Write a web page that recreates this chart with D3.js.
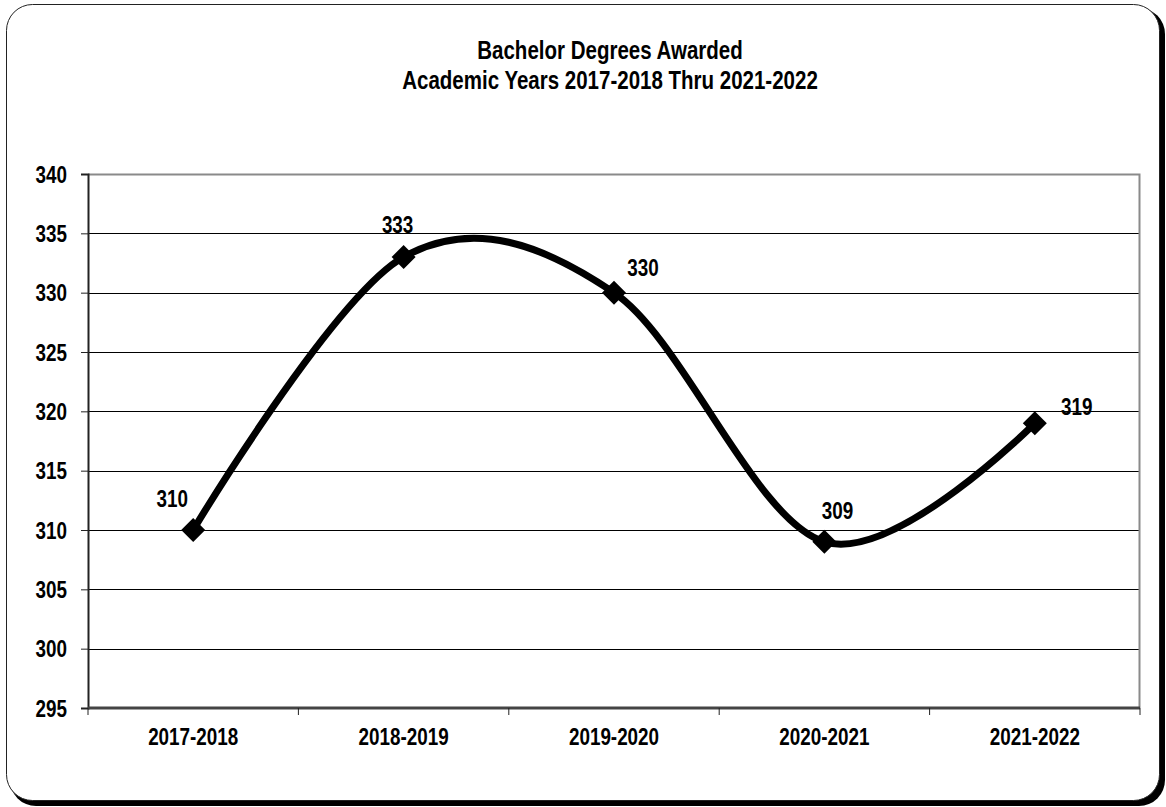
<!DOCTYPE html>
<html>
<head>
<meta charset="utf-8">
<script src="https://cdn.jsdelivr.net/npm/d3@7"></script>
<style>
  body { margin: 0; background: #fff; }
  text { font-family: "Liberation Sans Narrow", "Arial Narrow", "Liberation Sans", sans-serif; font-weight: bold; fill: #000; }
</style>
</head>
<body>
<div id="chart"></div>
<script>
// chart data
var years = ["2017-2018", "2018-2019", "2019-2020", "2020-2021", "2021-2022"];
var degrees = [310, 333, 330, 309, 319];
var yTicks = [295, 300, 305, 310, 315, 320, 325, 330, 335, 340];
var titleLines = ["Bachelor Degrees Awarded", "Academic Years 2017-2018 Thru 2021-2022"];

// where the data labels sit relative to their point (like excel's manual placement)
var labelShift = [[-21, -23], [-6, -24], [29, -17], [13, -23], [42, -8]];

var W = 1166, H = 807;
var margin = { top: 174, right: 26, bottom: 99, left: 88 },
  width = W - margin.left - margin.right,
  height = H - margin.top - margin.bottom;

// no narrow font here, so squeeze the regular one
var squeeze = 0.82;
function narrow(sel, fx, fy) {
  sel.attr("transform", function (d, i) {
    return "translate(" + fx(d, i) + "," + fy(d, i) + ") scale(" + squeeze + ",1)";
  });
}

var svg = d3.select("#chart").append("svg")
  .attr("width", W)
  .attr("height", H);

// frame with shadow
svg.append("rect")
  .attr("x", 10).attr("y", 8)
  .attr("width", 1155).attr("height", 798)
  .attr("rx", 26).attr("ry", 26)
  .style("fill", "#000");
svg.append("rect")
  .attr("x", 6.5).attr("y", 4.5)
  .attr("width", 1153).attr("height", 796)
  .attr("rx", 26).attr("ry", 26)
  .style("fill", "#fff")
  .style("stroke", "#222")
  .style("stroke-width", 1);

// title
svg.append("g").selectAll("text")
  .data(titleLines)
  .enter()
  .append("text")
  .attr("text-anchor", "middle")
  .style("font-size", "25px")
  .text(function (d) { return d; })
  .call(narrow, function () { return 610; }, function (d, i) { return 59 + i * 30; });

var g = svg.append("g")
  .attr("transform", "translate(" + margin.left + "," + margin.top + ")");

var x = d3.scaleBand().domain(years).range([0, width]);
var y = d3.scaleLinear().domain([295, 340]).range([height, 0]);

// gridlines
g.append("g")
  .selectAll("line")
  .data(yTicks.slice(1, -1))
  .enter()
  .append("line")
  .attr("x1", 0).attr("x2", width)
  .attr("y1", function (d) { return Math.round(y(d)) + 0.5; })
  .attr("y2", function (d) { return Math.round(y(d)) + 0.5; })
  .style("stroke", "#000")
  .style("stroke-width", 1);

// plot area border (top + right)
g.append("path")
  .attr("d", "M0," + 0.5 + "H" + (width - 0.5) + "V" + height)
  .style("fill", "none")
  .style("stroke", "#8a8a8a")
  .style("stroke-width", 2);

// y axis
var yAxis = d3.axisLeft(y).tickValues(yTicks).tickSize(7).tickPadding(14);
var yg = g.append("g").call(yAxis);
yg.select(".domain").style("stroke", "#222").style("stroke-width", 2);
yg.selectAll(".tick line").style("stroke", "#222");
yg.selectAll(".tick text")
  .attr("x", null).attr("dy", "0.36em")
  .style("font-size", "23px")
  .call(narrow, function () { return -21; }, function () { return 0; });

// x axis, ticks sit between categories
var xg = g.append("g").attr("transform", "translate(0," + height + ")");
xg.append("line")
  .attr("x1", 0).attr("x2", width)
  .attr("y1", 0).attr("y2", 0)
  .style("stroke", "#444").style("stroke-width", 3);
xg.selectAll(".xtick")
  .data(years.concat([null]))
  .enter()
  .append("line")
  .attr("x1", function (d, i) { return i < years.length ? x(d) : width; })
  .attr("x2", function (d, i) { return i < years.length ? x(d) : width; })
  .attr("y1", 0).attr("y2", 7)
  .style("stroke", "#222");
xg.selectAll(".xlab")
  .data(years)
  .enter()
  .append("text")
  .attr("text-anchor", "middle")
  .style("font-size", "23px")
  .text(function (d) { return d; })
  .call(narrow, function (d) { return x(d) + x.bandwidth() / 2; }, function () { return 37; });

// smoothed line
var pts = years.map(function (d, i) { return [x(d) + x.bandwidth() / 2, y(degrees[i])]; });
var line = d3.line().curve(d3.curveCardinal.tension(0));
g.append("path")
  .attr("d", line(pts))
  .style("fill", "none")
  .style("stroke", "#000")
  .style("stroke-width", 7)
  .style("stroke-linejoin", "round");

// diamond markers
g.selectAll(".marker")
  .data(pts)
  .enter()
  .append("path")
  .attr("d", "M0,-12L12,0L0,12L-12,0Z")
  .attr("transform", function (d) { return "translate(" + d[0] + "," + d[1] + ")"; })
  .style("fill", "#000");

// value labels
g.selectAll(".vlab")
  .data(degrees)
  .enter()
  .append("text")
  .attr("text-anchor", "middle")
  .style("font-size", "23px")
  .text(function (d) { return d; })
  .call(narrow,
    function (d, i) { return pts[i][0] + labelShift[i][0]; },
    function (d, i) { return pts[i][1] + labelShift[i][1]; });
</script>
</body>
</html>
